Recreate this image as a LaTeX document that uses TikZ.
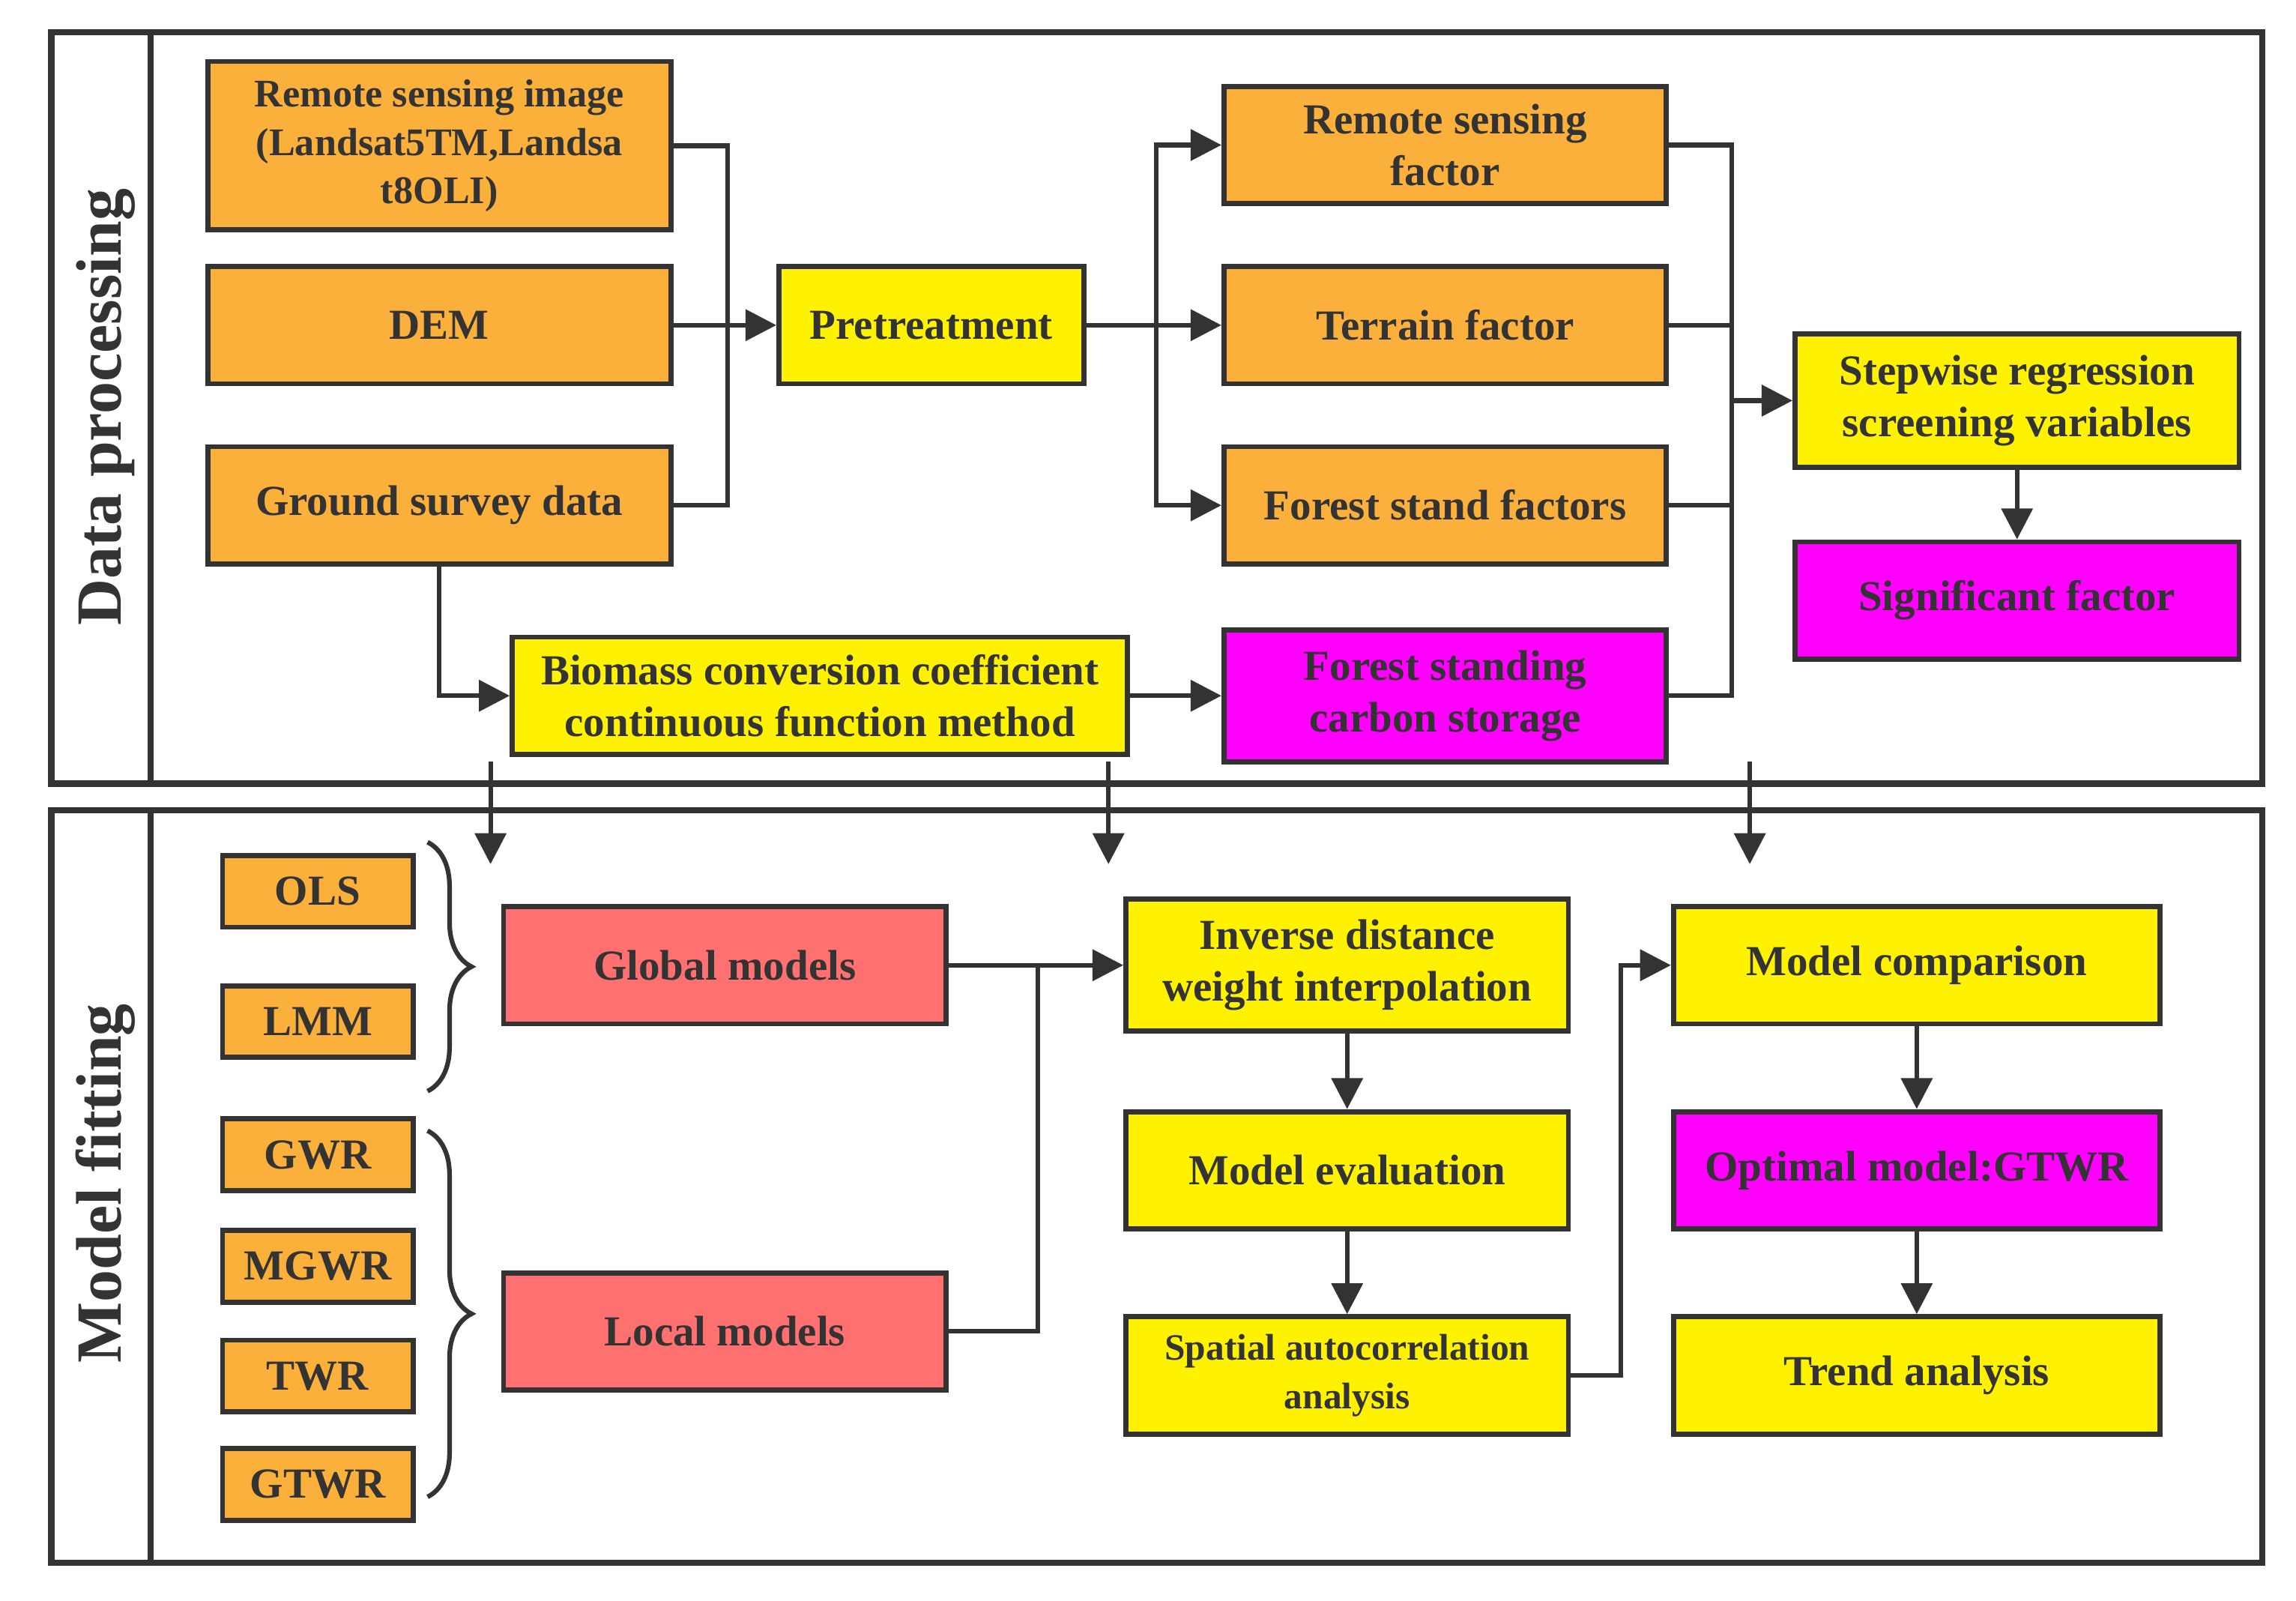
\documentclass[tikz,border=0pt]{standalone}
\usepackage{fontspec}
\setmainfont{Liberation Serif}
\usetikzlibrary{arrows.meta, decorations.pathreplacing, positioning}
\definecolor{boxorange}{HTML}{FBB03B}
\definecolor{boxyellow}{HTML}{FFF200}
\definecolor{boxpink}{HTML}{FF00FF}
\definecolor{boxred}{HTML}{FF7070}
\definecolor{ink}{HTML}{333333}
\tikzset{
  box/.style={draw=ink, line width=1pt, text=ink, font=\fontsize{8.3}{10}\selectfont\bfseries, align=center, inner sep=0pt},
  orangebox/.style={box, fill=boxorange},
  yellowbox/.style={box, fill=boxyellow},
  pinkbox/.style={box, fill=boxpink},
  redbox/.style={box, fill=boxred},
  link/.style={draw=ink, line width=0.9pt},
  arr/.style={link, -{Triangle[length=6pt, width=6pt]}},
  frame/.style={draw=ink, line width=1.2pt}
}
\begin{document}
\begin{tikzpicture}[x=0.01cm, y=-0.01cm]
    \useasboundingbox[fill=white] (0,0) rectangle (1568,1093);

    % Rahmen
    \draw[frame] (35,22) rectangle (1545,535);
    \draw[frame] (103,22) -- (103,535);
    \draw[frame] (35,553) rectangle (1545,1067);
    \draw[frame] (103,553) -- (103,1067);
    \node[rotate=90, text=ink, font=\fontsize{12.5}{14}\selectfont\bfseries] (dp) at (72,278) {Data processing};
    \node[rotate=90, text=ink, font=\fontsize{12.5}{14}\selectfont\bfseries] (mf) at (72,808) {Model fitting};

    % Data processing
    \node[orangebox, minimum width=3.16cm, minimum height=1.15cm, font=\fontsize{7.6}{9.4}\selectfont\bfseries] (rsimg) at (300,99.5) {Remote sensing image\\(Landsat5TM,Landsa\\t8OLI)};
    \node[orangebox, minimum width=3.16cm, minimum height=0.8cm] (dem) at (300,222) {DEM};
    \node[orangebox, minimum width=3.16cm, minimum height=0.8cm] (ground) at (300,345) {Ground survey data};
    \node[yellowbox, minimum width=2.08cm, minimum height=0.8cm] (pre) at (636,222) {Pretreatment};
    \node[orangebox, minimum width=3.02cm, minimum height=0.8cm] (rsf) at (987,99) {Remote sensing\\factor};
    \node[orangebox, minimum width=3.02cm, minimum height=0.8cm] (terrain) at (987,222) {Terrain factor};
    \node[orangebox, minimum width=3.02cm, minimum height=0.8cm] (stand) at (987,345) {Forest stand factors};
    \node[yellowbox, minimum width=3.03cm, minimum height=0.91cm] (step) at (1377.5,273.5) {Stepwise regression\\screening variables};
    \node[pinkbox, minimum width=3.03cm, minimum height=0.8cm] (signif) at (1377.5,410) {Significant factor};
    \node[yellowbox, minimum width=4.2cm, minimum height=0.8cm] (biomass) at (560,475) {Biomass conversion coefficient\\continuous function method};
    \node[pinkbox, minimum width=3.02cm, minimum height=0.9cm] (carbon) at (987,475) {Forest standing\\carbon storage};

    \draw[link] (rsimg.east) -- ++(37,0) |- (ground.east);
    \draw[arr] (dem) -- (pre);
    \draw[link] (pre.east) -- ++(48,0) coordinate (pj);
    \draw[arr] (pj) |- (rsf.west);
    \draw[arr] (pj) -- (terrain.west);
    \draw[arr] (pj) |- (stand.west);
    \draw[link] (rsf.east) -- ++(43,0) coordinate (fj) |- (carbon.east);
    \draw[link] (terrain.east) -| (fj);
    \draw[link] (stand.east) -| (fj);
    \coordinate (fs) at (fj |- step.west);
    \draw[arr] (fs) -- (step.west);
    \draw[arr] (step) -- (signif);
    \draw[arr] (ground.south) |- (biomass.west);
    \draw[arr] (biomass) -- (carbon);

    % Pfeile nach unten
    \foreach \x/\n in {335/a, 757/b, 1195/c} {
        \coordinate (top\n) at (\x,520);
        \coordinate (bot\n) at (\x,590);
        \draw[arr] (top\n) -- (bot\n);
    }

    % Model fitting
    \foreach \n/\lab/\y in {ols/OLS/608.5, lmm/LMM/697.5, gwr/GWR/788.5, mgwr/MGWR/864.5, twr/TWR/939.5, gtwr/GTWR/1013.5} {
        \node[orangebox, minimum width=1.3cm, minimum height=0.49cm] (\n) at (217,\y) {\lab};
    }
    \draw[link, decorate, decoration={brace, amplitude=0.3cm}] (292,575) -- (292,745);
    \draw[link, decorate, decoration={brace, amplitude=0.3cm}] (292,772) -- (292,1022);

    \node[redbox, minimum width=3.02cm, minimum height=0.8cm] (global) at (495,659) {Global models};
    \node[redbox, minimum width=3.02cm, minimum height=0.8cm] (local) at (495,909) {Local models};
    \node[yellowbox, minimum width=3.02cm, minimum height=0.9cm] (idw) at (920,659) {Inverse distance\\weight interpolation};
    \node[yellowbox, minimum width=3.02cm, minimum height=0.8cm] (eval) at (920,799) {Model evaluation};
    \node[yellowbox, minimum width=3.02cm, minimum height=0.8cm, font=\fontsize{7.2}{9.4}\selectfont\bfseries] (spatial) at (920,939) {Spatial autocorrelation\\analysis};
    \node[yellowbox, minimum width=3.32cm, minimum height=0.8cm] (comp) at (1309,659) {Model comparison};
    \node[pinkbox, minimum width=3.32cm, minimum height=0.8cm] (optimal) at (1309,799) {Optimal model:GTWR};
    \node[yellowbox, minimum width=3.32cm, minimum height=0.8cm] (trend) at (1309,939) {Trend analysis};

    \draw[link] (global.east) -- ++(61,0) coordinate (gj);
    \draw[arr] (gj) -- (idw.west);
    \draw[link] (local.east) -| (gj);
    \draw[arr] (idw) -- (eval);
    \draw[arr] (eval) -- (spatial);
    \draw[arr] (spatial.east) -- ++(34,0) |- (comp.west);
    \draw[arr] (comp) -- (optimal);
    \draw[arr] (optimal) -- (trend);
\end{tikzpicture}
\end{document}
